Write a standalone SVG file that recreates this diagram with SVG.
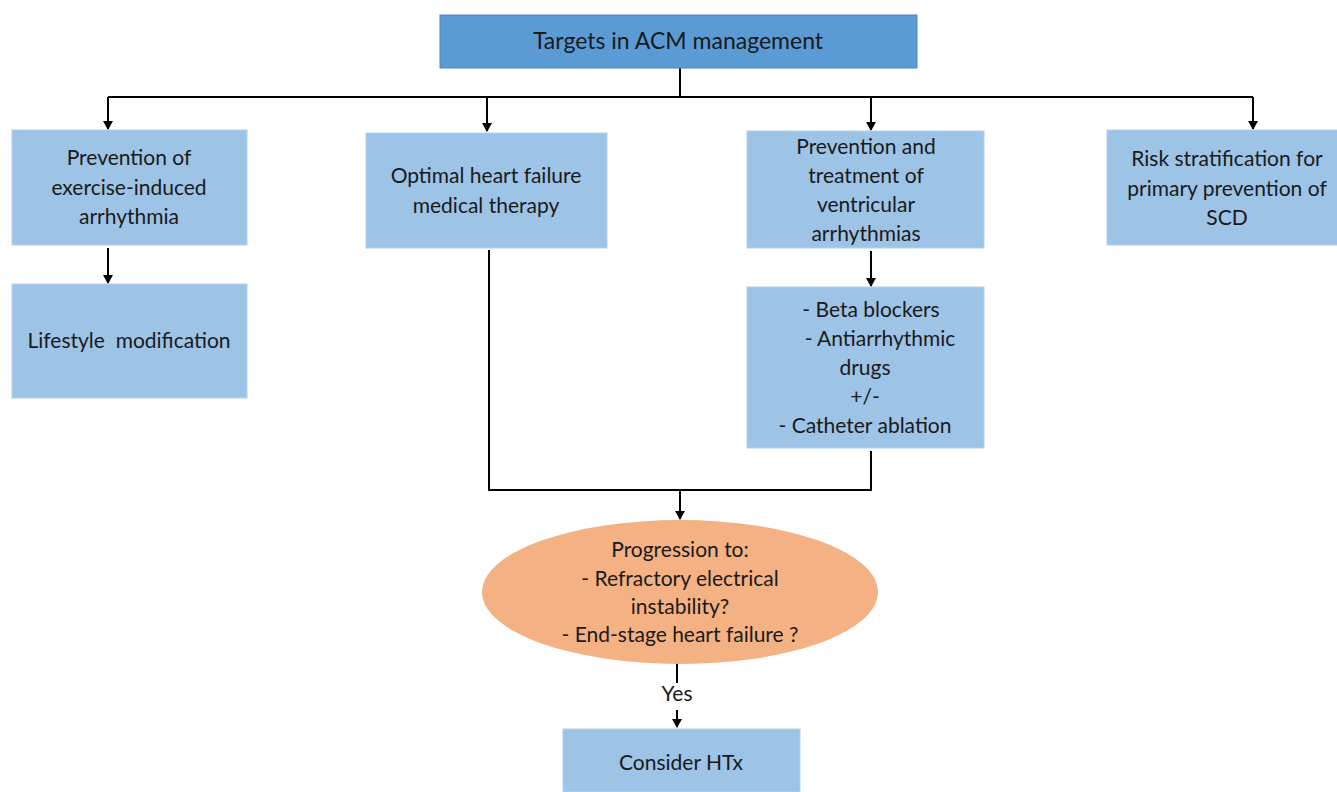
<svg xmlns="http://www.w3.org/2000/svg" width="1337" height="792" viewBox="0 0 1337 792">
<style>
text{font-family:Lato,"Open Sans","Liberation Sans",sans-serif;font-size:21px;fill:#1a1a1a;text-anchor:middle}
.box{fill:#9dc3e6;stroke:#b4d0ea;stroke-width:1}
.top{fill:#5b9bd5;stroke:#4a86c0;stroke-width:1}
.ln{stroke:#000;stroke-width:2;fill:none}
</style>
<defs>
<marker id="ah" markerWidth="10" markerHeight="10" refX="8" refY="5" orient="auto" markerUnits="userSpaceOnUse">
<path d="M0,0 L9,5 L0,10 z" fill="#000"/>
</marker>
</defs>
<g id="connectors">
<path class="ln" d="M680,68 V97"/>
<path class="ln" d="M108,97 H1253"/>
<path class="ln" d="M108,97 V129" marker-end="url(#ah)"/>
<path class="ln" d="M487,97 V131" marker-end="url(#ah)"/>
<path class="ln" d="M871,97 V130" marker-end="url(#ah)"/>
<path class="ln" d="M1253,97 V129" marker-end="url(#ah)"/>
<path class="ln" d="M108,248 V283" marker-end="url(#ah)"/>
<path class="ln" d="M871,251 V286" marker-end="url(#ah)"/>
<path class="ln" d="M489,250 V490 H871 V451"/>
<path class="ln" d="M680,490 V519" marker-end="url(#ah)"/>
<path class="ln" d="M677,662 V683"/>
<path class="ln" d="M677,710 V727" marker-end="url(#ah)"/>
<text x="677" y="701">Yes</text>
</g>
<g id="n-top"><rect class="top" x="440" y="15" width="477" height="53"/><text x="678" y="49" style="font-size:23px">Targets in ACM management</text></g>
<g id="n-exercise"><rect class="box" x="12" y="130" width="235" height="115"/>
<text x="129" y="165">Prevention of</text><text x="129" y="195">exercise-induced</text><text x="129" y="224">arrhythmia</text></g>
<g id="n-hf"><rect class="box" x="366" y="133" width="241" height="115"/>
<text x="486" y="183">Optimal heart failure</text><text x="486" y="213">medical therapy</text></g>
<g id="n-va"><rect class="box" x="747" y="131" width="237" height="117"/>
<text x="866" y="154">Prevention and</text><text x="866" y="183">treatment of</text><text x="866" y="212">ventricular</text><text x="866" y="241">arrhythmias</text></g>
<g id="n-risk"><rect class="box" x="1107" y="130" width="232" height="115"/>
<text x="1227" y="166">Risk stratification for</text><text x="1227" y="196">primary prevention of</text><text x="1227" y="225">SCD</text></g>
<g id="n-life"><rect class="box" x="12" y="284" width="235" height="114"/><text x="129" y="348" style="white-space:pre">Lifestyle  modification</text></g>
<g id="n-drugs"><rect class="box" x="747" y="287" width="237" height="161"/>
<text x="871" y="317">- Beta blockers</text><text x="880" y="346">- Antiarrhythmic</text><text x="865" y="375">drugs</text><text x="865" y="404">+/-</text><text x="865" y="433">- Catheter ablation</text></g>
<g id="n-prog"><ellipse cx="680" cy="592" rx="198" ry="72" fill="#f4b183"/>
<text x="680" y="557">Progression to:</text><text x="680" y="586">- Refractory electrical</text><text x="680" y="614">instability?</text><text x="680" y="642">- End-stage heart failure ?</text></g>
<g id="n-htx"><rect class="box" x="563" y="729" width="237" height="63"/><text x="681" y="770">Consider HTx</text></g>
</svg>
